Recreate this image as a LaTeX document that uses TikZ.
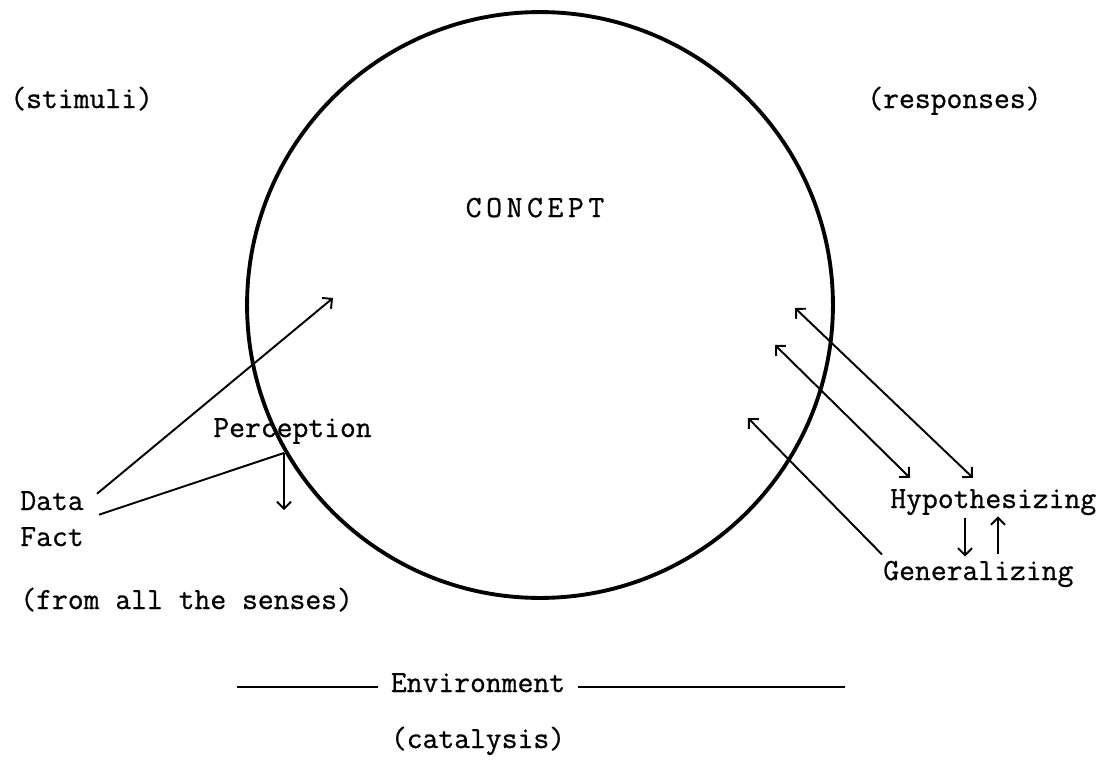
\documentclass[tikz,border=0pt]{standalone}
\usepackage{fontspec}
\setmonofont{Latin Modern Mono}[FakeBold=0.8]
\usetikzlibrary{arrows.meta}
\begin{document}
\begin{tikzpicture}[x=0.02cm,y=-0.02cm,>={Straight Barb[length=4pt,width=8pt]}]
        \tikzstyle{word}=[font=\ttfamily\bfseries\fontsize{17.5}{20}\selectfont,inner sep=0pt]
        \tikzstyle{ring}=[circle,draw,line width=2.2pt,inner sep=0pt,minimum size=11.72cm]
        \tikzstyle{edge}=[draw,line width=1.1pt]
        \useasboundingbox (0,0) rectangle (1117,771);
       \begin{scope}
         % the concept and its sides
         \node [ring] (concept) at (540,305) {};
         \node [word,anchor=base] (title) at (535,217) {\addfontfeature{LetterSpace=15}CONCEPT};
         \node [word,anchor=base west] (stimuli) at (10,108) {(stimuli)};
         \node [word,anchor=base west] (responses) at (867,108) {(responses)};
         \node [word,anchor=base west] (perception) at (213,437) {Perception};
         \node [word,anchor=base west] (data) at (20,510) {Data};
         \node [word,anchor=base west] (fact) at (20,546) {Fact};
         \node [word,anchor=base west] (senses) at (20,609) {(from all the senses)};
         \node [word,anchor=base west] (hyp) at (890,508) {Hypothesizing};
         \node [word,anchor=base west] (gen) at (883,580) {Generalizing};
         \node [word,anchor=base,inner xsep=7pt] (env) at (478,692) {Environment};
         \node [word,anchor=base] (catalysis) at (478,748) {(catalysis)};
         \coordinate (take) at (333,298);
         \coordinate (joint) at (284,453);
         \coordinate (drop) at (284,510);
         \coordinate (in1) at (795,308);
         \coordinate (in2) at (775,345);
         \coordinate (in3) at (748,418);
         \coordinate (envl) at (237,687);
         \coordinate (envr) at (845,687);
         % stimuli side
         \path[edge,->] ([shift={(13,-7)}]data.east) -- (take);
         \path[edge] ([shift={(15,-22)}]fact.east) -- (joint);
         \path[edge,->] (joint) -- (drop);
         % response side
         \path[edge,<->] (in1) -- ([shift={(83,-11)}]hyp.north west);
         \path[edge,<->] (in2) -- ([shift={(20,-11)}]hyp.north west);
         \path[edge,->] ([shift={(-1,-6)}]gen.north west) -- (in3);
         \path[edge,->] ([shift={(75,3)}]hyp.south west) -- ([shift={(82,-4)}]gen.north west);
         \path[edge,->] ([shift={(115,-6)}]gen.north west) -- ([shift={(108,1)}]hyp.south west);
         % environment
         \path[edge] (envl) -- (envl -| env.west);
         \path[edge] (env.east |- envr) -- (envr);
        \end{scope}
      \end{tikzpicture}
\end{document}
